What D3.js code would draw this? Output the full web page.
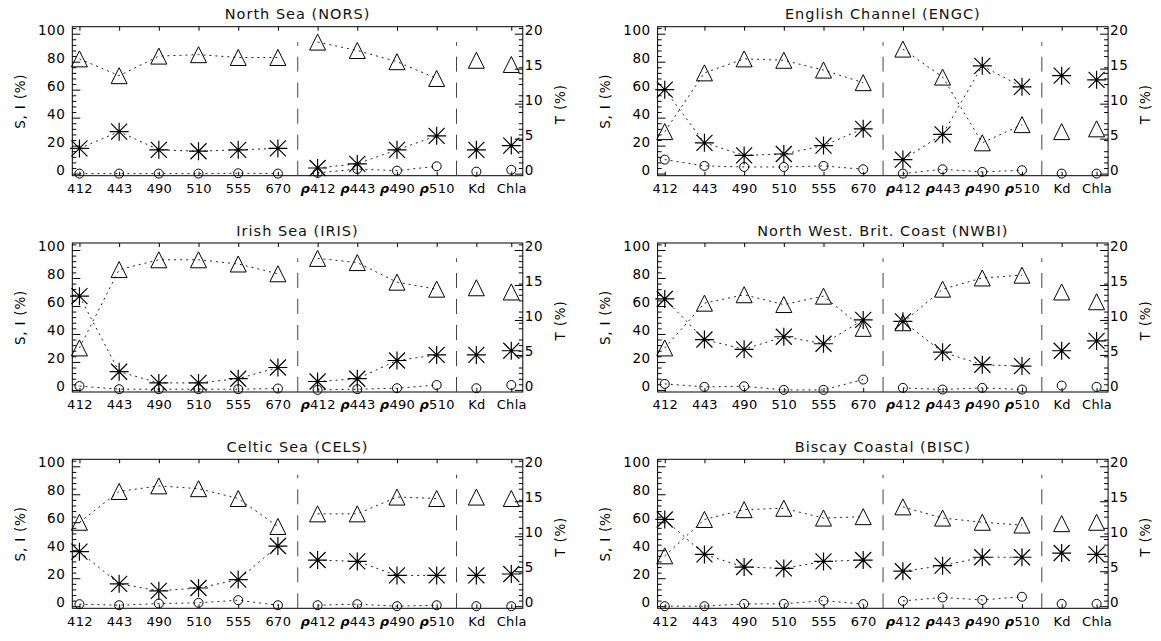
<!DOCTYPE html>
<html><head><meta charset="utf-8">
<script src="https://cdn.jsdelivr.net/npm/d3@7"></script>
<style>
body{margin:0;background:#fff;}
svg{display:block;}
text{font-family:"DejaVu Sans",sans-serif;fill:#000;}
</style></head>
<body>
<svg id="chart" width="1161" height="641"></svg>
<script>
// ---------- data ----------
const categories = ["412","443","490","510","555","670","ρ412","ρ443","ρ490","ρ510","Kd","Chla"];
const catPos = [0,1,2,3,4,5,6,7,8,9,10,10.88];
const lineGroups = [[0,5],[6,9]];
const separators = [5.5, 9.5];
const leftTicks = [0,20,40,60,80,100];
const leftMinor = [4,8,12,16,24,28,32,36,44,48,52,56,64,68,72,76,84,88,92,96,104];
const rightTicks = [0,5,10,15,20];
const titles = ["North Sea (NORS)","English Channel (ENGC)","Irish Sea (IRIS)","North West. Brit. Coast (NWBI)","Celtic Sea (CELS)","Biscay Coastal (BISC)"];

// triangles (left axis, %)
const norsTri = [82,70,84,85,83,83,94,88,80,68,81,78];
const engcTri = [30,72,82,81,74,65,89,69,22,35,30,32];
const irisTri = [30,86,93,93,90,83,94,91,77,72,73,70];
const nwbiTri = [30,62,68,61,67,44,48,72,80,82,70,63];
const celsTri = [60,82,86,84,77,57,66,66,78,77,78,77];
const biscTri = [36,62,69,70,63,64,71,63,60,58,59,60];
// asterisks (left axis, %)
const norsStar = [18,30,17,16,17,18,4,7,17,27,17,20];
const engcStar = [60,22,13,14,20,32,10,28,77,62,70,67];
const irisStar = [67,13,5,5,8,16,6,8,21,25,25,28];
const nwbiStar = [65,36,29,38,33,50,49,27,18,17,28,35];
const celsStar = [39,16,11,13,19,43,33,32,22,22,22,23];
const biscStar = [62,37,28,27,32,33,25,29,35,35,38,37];
// circles (right axis, T %)
const norsCirc = [0,0,0,0,0.05,0,0.1,0.65,0.42,1.05,0.28,0.55];
const engcCirc = [2.0,1.1,0.95,0.95,1.1,0.62,0,0.62,0.24,0.48,0,0];
const irisCirc = [0.55,0.1,0.1,0.1,0.1,0.2,0,0.1,0.24,0.7,0.24,0.7];
const nwbiCirc = [0.86,0.43,0.52,0,0,1.48,0.29,0.05,0.29,0.05,0.62,0.43];
const celsCirc = [0.29,0.14,0.38,0.48,0.86,0.14,0.14,0.29,0,0.14,0,0];
const biscCirc = [0,0,0.33,0.33,0.8,0.3,0.75,1.25,0.9,1.35,0.33,0.33];

const panels = [
  {title:titles[0], tri:norsTri, star:norsStar, circ:norsCirc},
  {title:titles[1], tri:engcTri, star:engcStar, circ:engcCirc},
  {title:titles[2], tri:irisTri, star:irisStar, circ:irisCirc},
  {title:titles[3], tri:nwbiTri, star:nwbiStar, circ:nwbiCirc},
  {title:titles[4], tri:celsTri, star:celsStar, circ:celsCirc},
  {title:titles[5], tri:biscTri, star:biscStar, circ:biscCirc}
];

// ---------- layout ----------
const W = 450.5, H = 149;
const colX = [72.3, 657.6];
const rowY0 = 26.7, rowStep = 216.3;

const svg = d3.select("#chart");
const x = d3.scaleLinear().domain([-0.18, 11.17]).range([0, W]);
const yL = d3.scaleLinear().domain([-1.5, 105]).range([H, 0]);
const yR = d3.scaleLinear().domain([-0.3, 21]).range([H, 0]);

const trianglePath = "M0,-8L8,8L-8,8Z";
const starPath = "M-9.5,0L9.5,0M0,-9L0,9M-8,-8L8,8M-8,8L8,-8";

panels.forEach((p, k) => {
  const col = k % 2, row = Math.floor(k / 2);
  const g = svg.append("g").attr("transform", `translate(${colX[col]},${rowY0 + row*rowStep})`);

  // title
  g.append("text").attr("x", W/2).attr("y", -7.5).attr("text-anchor","middle")
    .style("font-size","14.5px").style("letter-spacing","1px").style("fill","#111").text(p.title);

  // left axis major
  const la = g.append("g").call(d3.axisLeft(yL).tickValues(leftTicks).tickSize(-8).tickSizeOuter(0).tickPadding(7));
  la.select(".domain").remove();
  la.selectAll("text").attr("dy","0.05em").style("font-size","13.5px").style("letter-spacing","0.5px");
  const lm = g.append("g").call(d3.axisLeft(yL).tickValues(leftMinor).tickSize(-4).tickSizeOuter(0).tickFormat(""));
  lm.select(".domain").remove();

  // right axis
  const ra = g.append("g").attr("transform",`translate(${W},0)`)
    .call(d3.axisRight(yR).tickValues(rightTicks).tickSize(-8).tickSizeOuter(0).tickPadding(2));
  ra.select(".domain").remove();
  ra.selectAll("text").attr("dy","0.05em").style("font-size","13.5px").style("letter-spacing","0.5px");
  const rm = g.append("g").attr("transform",`translate(${W},0)`)
    .call(d3.axisRight(yL).tickValues(leftMinor).tickSize(-4).tickSizeOuter(0).tickFormat(""));
  rm.select(".domain").remove();

  // bottom axis
  const ba = g.append("g").attr("transform",`translate(0,${H})`)
    .call(d3.axisBottom(x).tickValues(catPos).tickSize(-4).tickSizeOuter(0).tickPadding(8)
      .tickFormat((d,i)=>categories[i]));
  ba.select(".domain").remove();
  ba.selectAll("text").style("font-size","13px").style("letter-spacing","0.3px")
    .each(function(d,i){
      const t = categories[i];
      if (t.startsWith("ρ")) {
        const s = d3.select(this).text(null);
        s.append("tspan").style("font-style","italic").style("font-weight","bold").text("ρ");
        s.append("tspan").text(t.slice(1));
      }
    });
  const ta = g.append("g").call(d3.axisTop(x).tickValues(catPos).tickSize(-4).tickSizeOuter(0).tickFormat(""));
  ta.select(".domain").remove();

  // frame
  g.append("rect").attr("x",0).attr("y",0).attr("width",W).attr("height",H)
    .attr("fill","none").attr("stroke","#000").attr("stroke-width",1);

  // axis titles
  g.append("text").attr("transform",`translate(-52.5,${H/2}) rotate(-90)`).attr("text-anchor","middle")
    .attr("dy","0.35em").style("font-size","13.5px").style("letter-spacing","0.8px").text("S, I (%)");
  g.append("text").attr("transform",`translate(${W+37.5},${H/2+3}) rotate(-90)`).attr("text-anchor","middle")
    .attr("dy","0.35em").style("font-size","13.5px").style("letter-spacing","0.8px").text("T (%)");

  // separators
  separators.forEach(s => {
    g.append("line").attr("x1",x(s)).attr("x2",x(s)).attr("y1",H).attr("y2",yL(94))
      .attr("stroke","#444").attr("stroke-width",1).attr("stroke-dasharray","15,11");
  });

  // dotted connecting lines
  const series = [
    {vals:p.tri, y:yL},
    {vals:p.star, y:yL},
    {vals:p.circ, y:yR}
  ];
  series.forEach(s => {
    lineGroups.forEach(([a,b]) => {
      const idx = d3.range(a, b+1);
      g.append("path").attr("d", d3.line().x(i=>x(catPos[i])).y(i=>s.y(s.vals[i]))(idx))
        .attr("fill","none").attr("stroke","#222").attr("stroke-width",1).attr("stroke-dasharray","2,4");
    });
  });

  // markers
  g.selectAll(".tri").data(p.tri).enter().append("path")
    .attr("transform",(d,i)=>`translate(${x(catPos[i])},${yL(d)})`)
    .attr("d",trianglePath).attr("fill","none").attr("stroke","#000").attr("stroke-width",1);
  g.selectAll(".star").data(p.star).enter().append("path")
    .attr("transform",(d,i)=>`translate(${x(catPos[i])},${yL(d)})`)
    .attr("d",starPath).attr("fill","none").attr("stroke","#000").attr("stroke-width",1.2);
  g.selectAll(".circ").data(p.circ).enter().append("circle")
    .attr("cx",(d,i)=>x(catPos[i])).attr("cy",d=>yR(d)).attr("r",4.5)
    .attr("fill","none").attr("stroke","#000").attr("stroke-width",1);
});
</script>
</body></html>
